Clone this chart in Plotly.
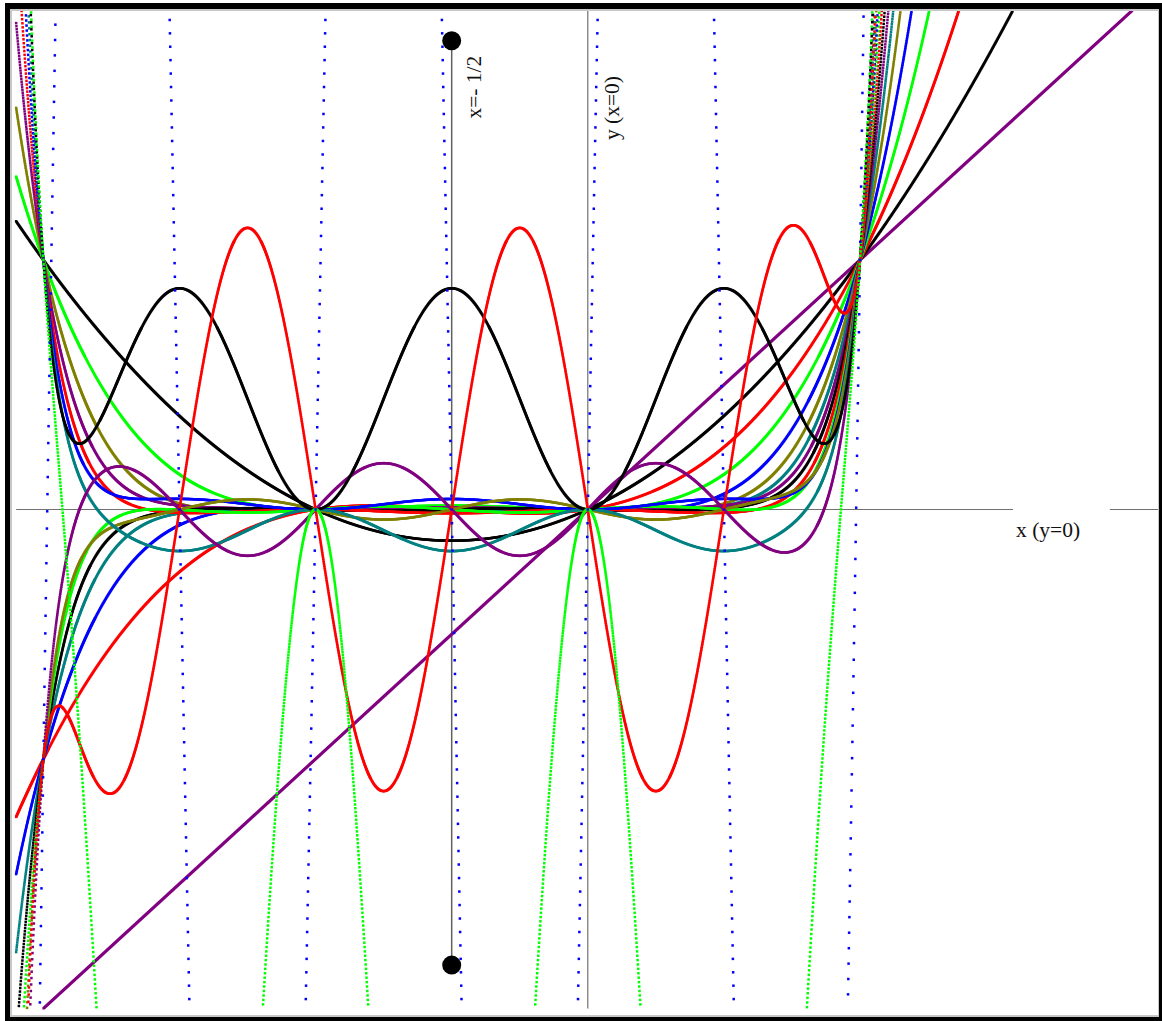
import numpy as np
import plotly.graph_objects as go
from fractions import Fraction
from math import comb

# Power sums S_p(n) = 1^p + 2^p + ... + n^p, continued to real n as polynomials
POWERS = list(range(19))
PALETTE = ["#800080", "#000000", "#FF0000", "#00FF00", "#0000FF", "#808000", "#008080"]

# sampling grid of the curves (drawn as dots, one per sample)
X_START, X_STOP, X_STEP = -2.1, 2.1, 0.001
Y_CLIP = 2.0

# reference lines and their labels
AXIS_X_SPAN = [-2.1, 2.1]
AXIS_X_GAP = [1.562, 1.918]
AXIS_Y_SPAN = [-2.0, 2.0]
GUIDE_X = -0.5
GUIDE_Y_ENDS = [-1.826, 1.879]
LABELS = [
    dict(text="x=- 1/2", x=-0.418, y=1.691, angle=-90),
    dict(text="y (x=0)", x=0.089, y=1.609, angle=-90),
    dict(text="x (y=0)", x=1.691, y=-0.082, angle=0),
]

# figure geometry (pixels)
W, H = 1162, 1021
ML, MR, MT, MB = 12, 2, 11, 6
X_RANGE = [-2.1153, 2.1021]
Y_RANGE = [-2.026, 1.998]


def bernoulli_plus(n_max):
    b = [Fraction(1)]
    for m in range(1, n_max + 1):
        s = sum(comb(m + 1, k) * b[k] for k in range(m))
        b.append(-s / (m + 1))
    b[1] = Fraction(1, 2)
    return b


def faulhaber_coeffs(p, bern):
    # highest degree first, for np.polyval
    c = [Fraction(0)] * (p + 2)
    for j in range(p + 1):
        deg = p + 1 - j
        c[p + 1 - deg] += Fraction(comb(p + 1, j)) * bern[j] / (p + 1)
    return [float(v) for v in c]


bern = bernoulli_plus(max(POWERS) + 1)
xs = np.arange(X_START, X_STOP + X_STEP / 2, X_STEP)

plot_w = W - ML - MR
plot_h = H - MT - MB
sx = plot_w / (X_RANGE[1] - X_RANGE[0])
sy = plot_h / (Y_RANGE[1] - Y_RANGE[0])

fig = go.Figure()

# axis lines
fig.add_trace(go.Scatter(x=[AXIS_X_SPAN[0], AXIS_X_GAP[0], None, AXIS_X_GAP[1], AXIS_X_SPAN[1]],
                         y=[0, 0, None, 0, 0], mode="lines",
                         line=dict(color="#707070", width=1.2), hoverinfo="skip"))
fig.add_trace(go.Scatter(x=[0, 0], y=AXIS_Y_SPAN, mode="lines",
                         line=dict(color="#707070", width=1.2), hoverinfo="skip"))
fig.add_trace(go.Scatter(x=[GUIDE_X, GUIDE_X], y=GUIDE_Y_ENDS, mode="lines+markers",
                         line=dict(color="#606060", width=1.5),
                         marker=dict(color="black", size=19), hoverinfo="skip"))

for p in POWERS:
    ys = np.polyval(faulhaber_coeffs(p, bern), xs)
    keep = np.abs(ys) <= Y_CLIP
    px_x, px_y = [], []
    last = None
    for xv, yv, k in zip(xs, ys, keep):
        if not k:
            last = None
            continue
        if last is not None:
            dx = (xv - last[0]) * sx
            dy = (yv - last[1]) * sy
            if dx * dx + dy * dy < 0.35:
                continue
        px_x.append(xv)
        px_y.append(yv)
        last = (xv, yv)
    fig.add_trace(go.Scatter(x=px_x, y=px_y, mode="markers",
                             marker=dict(symbol="square", size=2.5,
                                         color=PALETTE[p % len(PALETTE)],
                                         line=dict(width=0)),
                             hoverinfo="skip"))


def paper_x(px):
    return (px - ML) / plot_w


def paper_y(py):
    return (H - MB - py) / plot_h


def band(x0, y0, x1, y1, color):
    return dict(type="rect", xref="paper", yref="paper",
                x0=paper_x(x0), x1=paper_x(x1), y0=paper_y(y1), y1=paper_y(y0),
                fillcolor=color, line=dict(width=0), layer="above")


shapes = [
    # window frame: light inner edge, dark outer band
    band(10, 9, 1159, 11, "#c8c8c8"),
    band(10, 9, 12, 1017, "#c8c8c8"),
    band(10, 1015, 1159, 1017, "#c8c8c8"),
    band(1158, 9, 1159, 1017, "#c8c8c8"),
    band(5, 3, 1162, 9, "#000000"),
    band(5, 3, 10, 1021, "#000000"),
    band(5, 1017, 1162, 1021, "#000000"),
    band(1159, 3, 1162, 1021, "#000000"),
]

annotations = [
    dict(text=lab["text"], x=lab["x"], y=lab["y"], xref="x", yref="y",
         showarrow=False, textangle=lab["angle"], xanchor="center", yanchor="middle",
         font=dict(family="Liberation Serif", size=21.5, color="#111111"))
    for lab in LABELS
]

fig.update_layout(
    width=W, height=H,
    margin=dict(l=ML, r=MR, t=MT, b=MB, pad=0),
    paper_bgcolor="white", plot_bgcolor="white",
    showlegend=False,
    xaxis=dict(range=X_RANGE, visible=False, fixedrange=True),
    yaxis=dict(range=Y_RANGE, visible=False, fixedrange=True),
    shapes=shapes,
    annotations=annotations,
)

fig.write_html("out.html", config={"displayModeBar": False})
